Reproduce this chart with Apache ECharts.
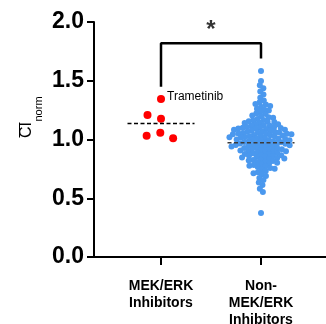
<!DOCTYPE html>
<html>
<head>
<meta charset="utf-8">
<script src="https://cdn.jsdelivr.net/npm/echarts@6/dist/echarts.min.js"></script>
<style>
  html, body { margin: 0; padding: 0; background: #fff; }
  #chart { width: 326px; height: 324px; }
</style>
</head>
<body>
<div id="chart"></div>
<script>
const categories = ['MEK/ERK\nInhibitors', 'Non-\nMEK/ERK\nInhibitors'];
// MEK/ERK group (order matters for the spread)
const redValues = [1.345, 1.177, 1.058, 1.209, 1.010, 1.032];
const redLabels = ['Trametinib', '', '', '', '', ''];
// Non-MEK/ERK group
const blueValues = [
  1.583, 1.498, 1.461, 1.437, 1.409, 1.382, 1.355, 1.331, 1.316, 1.303,
  1.297, 1.286, 1.279, 1.262, 1.254,
  1.247, 1.236, 1.222, 1.217, 1.204,
  1.198, 1.189, 1.186, 1.174, 1.166, 1.163, 1.155, 1.151,
  1.149, 1.142, 1.14, 1.131, 1.129, 1.122, 1.118, 1.116, 1.109, 1.106, 1.103, 1.1,
  1.098, 1.094, 1.091, 1.089, 1.083, 1.082, 1.076, 1.075, 1.07, 1.067, 1.065, 1.06, 1.058, 1.055, 1.052, 1.05,
  1.049, 1.045, 1.044, 1.039, 1.036, 1.035, 1.03, 1.028, 1.027, 1.021, 1.02, 1.015, 1.012, 1.011, 1.006, 1.004, 1.001,
  0.997, 0.994, 0.993, 0.988, 0.985, 0.982, 0.978, 0.976, 0.973, 0.971, 0.967, 0.963, 0.962, 0.958, 0.955, 0.953, 0.951,
  0.948, 0.944, 0.941, 0.938, 0.933, 0.931, 0.927, 0.924, 0.92, 0.917, 0.913, 0.909, 0.906, 0.903, 0.901,
  0.897, 0.893, 0.889, 0.885, 0.882, 0.877, 0.874, 0.869, 0.866, 0.861, 0.857, 0.853, 0.851,
  0.847, 0.842, 0.838, 0.834, 0.829, 0.826, 0.821, 0.816, 0.812, 0.806, 0.802,
  0.795, 0.788, 0.783, 0.776, 0.771, 0.765, 0.758, 0.752,
  0.744, 0.731, 0.722, 0.713, 0.704,
  0.689, 0.672, 0.656,
  0.634, 0.612,
  0.581, 0.553,
  0.374
];
const meanValues = [1.137, 0.973];
const bracketX = [1, 1, 2, 2];
const bracketY = [1.46, 1.82, 1.82, 1.70];
const sigLabel = '*';

const FONT = 'Liberation Sans, Arial, sans-serif';
const chart = echarts.init(document.getElementById('chart'));

chart.setOption({
  animation: false,
  grid: { left: 94, right: 0, top: 22, bottom: 67, outerBoundsMode: 'none' },
  xAxis: {
    type: 'value', min: 0.33, max: 2.65,
    splitLine: { show: false },
    axisLine: { show: true, onZero: false, lineStyle: { color: '#000', width: 2 } },
    axisTick: { show: true, customValues: [1, 2], length: 8, lineStyle: { color: '#000', width: 2 } },
    axisLabel: {
      customValues: [1, 2], margin: 21,
      formatter: v => categories[Math.round(v) - 1],
      color: '#000', fontWeight: 'bold', fontSize: 14, lineHeight: 17, fontFamily: FONT
    }
  },
  yAxis: {
    type: 'value', min: 0, max: 2, interval: 0.5,
    splitLine: { show: false },
    axisLine: { show: true, lineStyle: { color: '#000', width: 2 } },
    axisTick: { show: true, length: 7, lineStyle: { color: '#000', width: 2 } },
    axisLabel: {
      margin: 10, formatter: v => v.toFixed(1),
      color: '#000', fontWeight: 'bold', fontSize: 23, fontFamily: FONT
    }
  },
  series: []
});

// simple beeswarm: pushes each dot sideways until it does not overlap
function swarm(values, cx, D, leftFirst) {
  const placed = [];
  return values.map((v, i) => {
    const py = chart.convertToPixel({ gridIndex: 0 }, [cx, v])[1];
    const cands = [0];
    placed.forEach(q => {
      const dy = py - q.py;
      if (Math.abs(dy) < D) {
        const dx = Math.sqrt(D * D - dy * dy);
        cands.push(q.dx - dx, q.dx + dx);
      }
    });
    const left = leftFirst(i);
    cands.sort((a, b) => (Math.abs(a) - Math.abs(b)) || (left ? a - b : b - a));
    let dx = 0;
    for (const c of cands) {
      if (placed.every(q => (c - q.dx) ** 2 + (py - q.py) ** 2 >= D * D - 1e-6)) { dx = c; break; }
    }
    placed.push({ dx, py });
    return dx;
  });
}

const pxPerX = chart.convertToPixel({ gridIndex: 0 }, [2, 0])[0] - chart.convertToPixel({ gridIndex: 0 }, [1, 0])[0];

const redDx = swarm(redValues, 1, 14, () => true);
const blueSorted = blueValues.slice().sort((a, b) => b - a);
const blueDx = swarm(blueSorted, 2, 4.5, i => i % 2 === 0);

const redData = redValues.map((v, i) => {
  const item = { value: [1 + redDx[i] / pxPerX, v] };
  if (redLabels[i]) {
    item.label = {
      show: true, formatter: redLabels[i], position: 'right', distance: 2, offset: [0, -2],
      color: '#000', fontSize: 12, fontFamily: FONT
    };
  }
  return item;
});
const blueData = blueSorted.map((v, i) => [2 + blueDx[i] / pxPerX, v]);

const halfW = 0.335;
chart.setOption({
  graphic: [{
    type: 'group', x: 35, y: 138, rotation: Math.PI / 2,
    children: [
      { type: 'text', x: 0, y: 0, style: { text: 'CI', font: '16px ' + FONT, fill: '#000', align: 'left', verticalAlign: 'bottom', textAlign: 'left', textVerticalAlign: 'bottom' } },
      { type: 'text', x: 16.5, y: 9.6, style: { text: 'norm', font: '11px ' + FONT, fill: '#000', align: 'left', verticalAlign: 'bottom', textAlign: 'left', textVerticalAlign: 'bottom' } },
      { type: 'line', shape: { x1: 0.5, y1: -15.5, x2: 15.5, y2: -15.5 }, style: { stroke: '#000', lineWidth: 1 } }
    ]
  }],
  series: [
    {
      type: 'scatter', data: redData, symbolSize: 8,
      itemStyle: { color: '#ff0000', opacity: 1 }, z: 3
    },
    {
      type: 'scatter', data: blueData, symbolSize: 6,
      itemStyle: { color: '#4a98ee', opacity: 1 }, z: 3
    },
    {
      type: 'line', symbol: 'none', z: 4,
      data: [[1 - halfW, meanValues[0]], [1 + halfW, meanValues[0]]],
      lineStyle: { color: '#000', width: 1.5, type: [4, 2.5] }
    },
    {
      type: 'line', symbol: 'none', z: 4,
      data: [[2 - halfW, meanValues[1]], [2 + halfW, meanValues[1]]],
      lineStyle: { color: '#3c3c3c', width: 1.5, type: [4, 2.5] }
    },
    {
      type: 'line', symbol: 'none', z: 4,
      data: bracketX.map((x, i) => [x, bracketY[i]]),
      lineStyle: { color: '#000', width: 2.5, cap: 'square' }
    },
    {
      type: 'scatter', symbolSize: 0, z: 5,
      data: [[(bracketX[0] + bracketX[3]) / 2, 1.93]],
      label: {
        show: true, position: 'inside', formatter: sigLabel,
        color: '#000', fontSize: 24, fontWeight: 'bold', fontFamily: FONT
      }
    }
  ]
});
</script>
</body>
</html>
